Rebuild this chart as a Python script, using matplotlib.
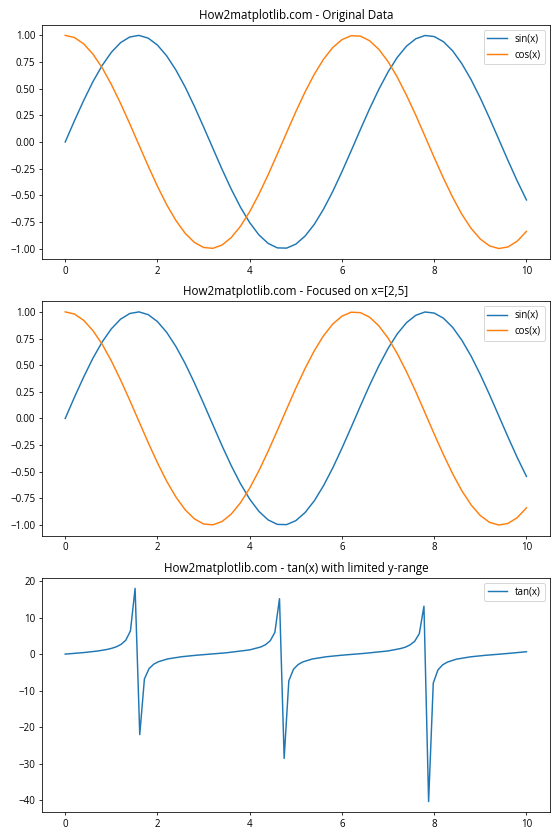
import matplotlib
matplotlib.use('Agg')
import matplotlib.pyplot as plt

plt.rcParams['font.family'] = ['Open Sans', 'DejaVu Sans']

# sin / cos
x_trig = [0.0, 0.2, 0.4, 0.6, 0.8, 1.0, 1.2, 1.4, 1.6, 1.8, 2.0, 2.2, 2.4, 2.6, 2.8,
          3.0, 3.2, 3.4, 3.6, 3.8, 4.0, 4.2, 4.4, 4.6, 4.8, 5.0, 5.2, 5.4, 5.6, 5.8,
          6.0, 6.2, 6.4, 6.6, 6.8, 7.0, 7.2, 7.4, 7.6, 7.8, 8.0, 8.2, 8.4, 8.6, 8.8,
          9.0, 9.2, 9.4, 9.6, 9.8, 10.0]
sin_vals = [0.000, 0.199, 0.389, 0.565, 0.717, 0.841, 0.932, 0.985, 1.000, 0.974,
            0.909, 0.808, 0.675, 0.516, 0.335, 0.141, -0.058, -0.256, -0.443, -0.612,
            -0.757, -0.872, -0.952, -0.994, -0.996, -0.959, -0.883, -0.773, -0.631, -0.465,
            -0.279, -0.083, 0.117, 0.312, 0.494, 0.657, 0.794, 0.899, 0.968, 0.999,
            0.989, 0.941, 0.855, 0.734, 0.585, 0.412, 0.223, 0.025, -0.174, -0.366, -0.544]
cos_vals = [1.000, 0.980, 0.921, 0.825, 0.697, 0.540, 0.362, 0.170, -0.029, -0.227,
            -0.416, -0.589, -0.737, -0.857, -0.942, -0.990, -0.998, -0.967, -0.897, -0.791,
            -0.654, -0.490, -0.307, -0.112, 0.087, 0.284, 0.469, 0.635, 0.776, 0.886,
            0.960, 0.997, 0.993, 0.950, 0.869, 0.754, 0.608, 0.438, 0.252, 0.054,
            -0.146, -0.339, -0.519, -0.679, -0.811, -0.911, -0.975, -1.000, -0.985, -0.931, -0.839]

# tan(x), sampled coarsely with the spikes as seen
x_tan = [0, 0.404, 0.707, 0.909, 1.010, 1.111, 1.212, 1.313, 1.414, 1.515,
         1.616, 1.717, 1.818, 1.919, 2.020, 2.222, 2.525, 2.828, 3.0, 3.5, 4.0,
         4.242, 4.343, 4.444, 4.545, 4.646,
         4.747, 4.848, 4.949, 5.051, 5.152, 5.354, 5.657, 6.0, 6.5, 7.0,
         7.273, 7.374, 7.475, 7.576, 7.677, 7.778,
         7.879, 7.980, 8.081, 8.182, 8.283, 8.485, 8.788, 9.091, 9.5, 10.0]
tan_vals = [0.0, 0.428, 0.853, 1.285, 1.592, 2.02, 2.67, 3.79, 6.33, 17.97,
            -22.0, -6.79, -3.96, -2.75, -2.08, -1.31, -0.711, -0.324, -0.143, 0.375, 1.158,
            1.96, 2.58, 3.64, 5.93, 15.16,
            -28.5, -7.30, -4.14, -2.84, -2.13, -1.34, -0.724, -0.291, 0.219, 0.871,
            1.53, 1.90, 2.51, 3.50, 5.58, 13.1,
            -40.3, -7.91, -4.33, -2.94, -2.19, -1.37, -0.739, -0.347, 0.075, 0.648]

fig, axes = plt.subplots(3, 1, figsize=(8, 12))

axes[0].plot(x_trig, sin_vals, label='sin(x)')
axes[0].plot(x_trig, cos_vals, label='cos(x)')
axes[0].set_title('How2matplotlib.com - Original Data')

axes[1].plot(x_trig, sin_vals, label='sin(x)')
axes[1].plot(x_trig, cos_vals, label='cos(x)')
axes[1].set_title('How2matplotlib.com - Focused on x=[2,5]')

axes[2].plot(x_tan, tan_vals, label='tan(x)')
axes[2].set_title('How2matplotlib.com - tan(x) with limited y-range')

for ax in axes:
    ax.legend(loc='upper right')

plt.tight_layout()
plt.savefig('out.png', dpi=70)
